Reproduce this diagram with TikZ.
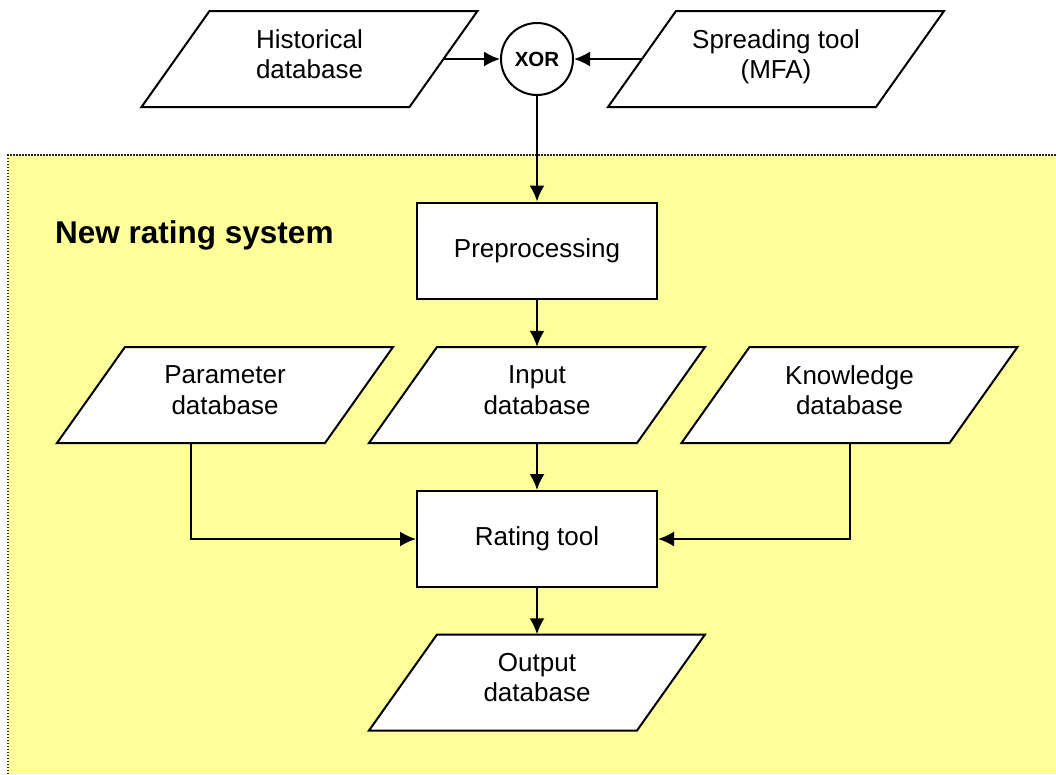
\documentclass[tikz,border=0pt]{standalone}
\usepackage{fontspec}
\setmainfont{Liberation Sans}
\usetikzlibrary{arrows.meta}
\definecolor{yellowbg}{HTML}{FFFF99}
\newcommand\paradraw[4]{% name, cx, cy, text
  \path[parashape] ({#2-134+34},{#3-48}) -- ({#2+134+34},{#3-48}) -- ({#2+134-34},{#3+48}) -- ({#2-134-34},{#3+48}) -- cycle;
  \node[paranode] (#1) at (#2,#3) {#4};
}
\begin{document}
\begin{tikzpicture}[x=1pt,y=-1pt,
  lbl/.style={font=\fontsize{26}{30.5}\selectfont, align=center, inner sep=0pt},
  paranode/.style={lbl, minimum width=268pt, minimum height=96pt, text depth=10pt},
  parashape/.style={draw=black, fill=white, line width=2pt, line join=miter},
  boxnode/.style={lbl, draw=black, fill=white, line width=2pt, minimum width=240pt, minimum height=96pt},
  conn/.style={line width=2pt, -{Latex[length=16pt,width=15pt]}},
  region/.style={draw=black!85, line width=1.3pt, dash pattern=on 1.5pt off 1.5pt}]
\fill[white] (0,0) rectangle (1056,774);
\useasboundingbox (0,0) rectangle (1056,774);
% region
\fill[yellowbg] (8,155) rectangle (1056,774);
\draw[region] (8,774) -- (8,155) -- (1056,155);
\node[anchor=base west, inner sep=0pt, font=\bfseries\fontsize{31.5}{36}\selectfont] (title) at (55,243) {New rating system};
% top
\paradraw{hist}{309.5}{59}{Historical\\database}
\paradraw{spread}{776}{59}{Spreading tool\\(MFA)}
\node[circle, draw=black, fill=white, line width=2pt, minimum size=72pt, inner sep=0pt, font=\bfseries\fontsize{20.5}{24}\selectfont] (xor) at (537,59) {XOR};
% inside
\node[boxnode] (pre) at (537,250.5) {Preprocessing};
\paradraw{param}{225}{395}{Parameter\\database}
\paradraw{input}{537}{395}{Input\\database}
\paradraw{know}{849.5}{395}{Knowledge\\database}
\node[boxnode] (rate) at (537,539) {Rating tool};
\paradraw{output}{537}{682.5}{Output\\database}
% connectors
\draw[conn] (hist.east) -- (xor.west);
\draw[conn] (spread.west) -- (xor.east);
\draw[conn] (xor.south) -- (pre.north);
\draw[conn] (pre.south) -- (input.north);
\draw[conn] (input.south) -- (rate.north);
\draw[conn] (rate.south) -- (output.north);
\draw[conn] ([xshift=-34pt]param.south) |- (rate.west);
\draw[conn] (know.south) |- (rate.east);
\end{tikzpicture}
\end{document}
